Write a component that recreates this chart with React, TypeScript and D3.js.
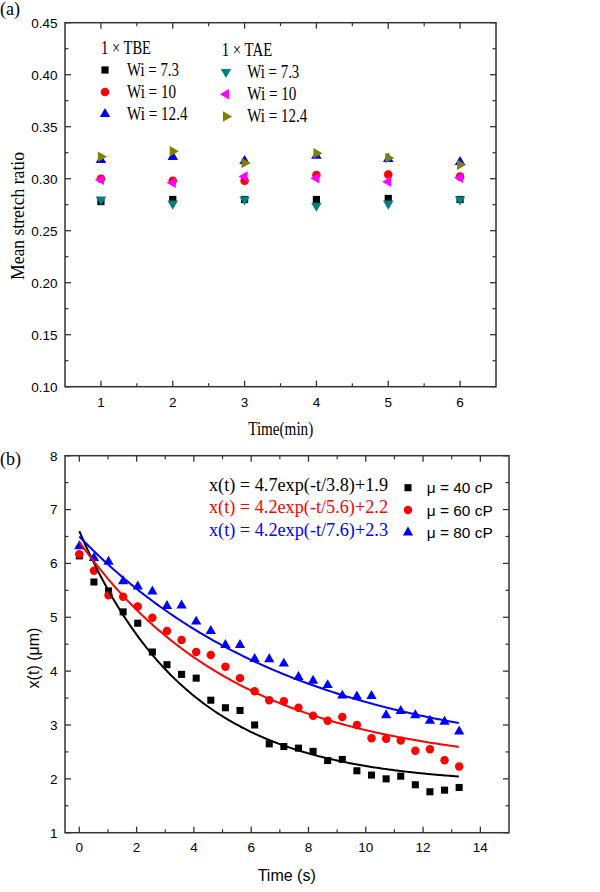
import React from "react";
import * as d3 from "d3";

// ---------- Panel (a) data ----------
const timeMin = [1, 2, 3, 4, 5, 6];
const tbe73 = [0.278, 0.280, 0.280, 0.280, 0.281, 0.280];
const tbe10 = [0.300, 0.298, 0.298, 0.3035, 0.304, 0.302];
const tbe124 = [0.318, 0.321, 0.317, 0.322, 0.319, 0.316];
const tae73 = [0.280, 0.276, 0.280, 0.274, 0.276, 0.280];
const tae10 = [0.299, 0.296, 0.302, 0.3005, 0.297, 0.301];
const tae124 = [0.321, 0.3265, 0.315, 0.3245, 0.320, 0.3135];
const aYTicks = [0.10, 0.15, 0.20, 0.25, 0.30, 0.35, 0.40, 0.45];
const aXTicks = [1, 2, 3, 4, 5, 6];

// ---------- Panel (b) data ----------
const timeS = [0, 0.51, 1.02, 1.53, 2.04, 2.55, 3.06, 3.57, 4.08, 4.59, 5.1, 5.61, 6.12, 6.63, 7.14, 7.65, 8.16, 8.67, 9.18, 9.69, 10.2, 10.71, 11.22, 11.73, 12.24, 12.75, 13.26];
const mu40 = [6.14, 5.655, 5.49, 5.10, 4.89, 4.355, 4.12, 3.94, 3.87, 3.46, 3.32, 3.27, 3.0, 2.65, 2.60, 2.57, 2.51, 2.34, 2.36, 2.15, 2.07, 2.0, 2.05, 1.89, 1.76, 1.79, 1.84];
const mu60 = [6.17, 5.865, 5.41, 5.38, 5.20, 4.99, 4.745, 4.58, 4.355, 4.30, 4.08, 3.87, 3.625, 3.46, 3.44, 3.32, 3.17, 3.08, 3.15, 3.0, 2.755, 2.745, 2.71, 2.52, 2.55, 2.345, 2.23];
const mu80 = [6.32, 6.10, 6.03, 5.67, 5.57, 5.48, 5.21, 5.22, 4.92, 4.745, 4.485, 4.485, 4.225, 4.22, 4.14, 3.89, 3.82, 3.74, 3.545, 3.53, 3.54, 3.18, 3.26, 3.18, 3.08, 3.06, 2.88];
// fit parameters x(t) = A exp(-t/tau) + C
const fitA = [4.7, 4.2, 4.2];
const fitTau = [3.8, 5.6, 7.6];
const fitC = [1.9, 2.2, 2.3];
const fitLabels = [
  "x(t) = 4.7exp(-t/3.8)+1.9",
  "x(t) = 4.2exp(-t/5.6)+2.2",
  "x(t) = 4.2exp(-t/7.6)+2.3",
];
const muLabels = ["\u03bc = 40 cP", "\u03bc = 60 cP", "\u03bc = 80 cP"];
const bYTicks = [1, 2, 3, 4, 5, 6, 7, 8];
const bXTicks = [0, 2, 4, 6, 8, 10, 12, 14];

const SERIF = "'Liberation Serif', 'Times New Roman', serif";
const SANS = "'Liberation Sans', Arial, sans-serif";
const AXIS = "#333";

type Shape = "square" | "circle" | "up" | "down" | "left" | "right";

function Marker({ x, y, shape, color, size }: { x: number; y: number; shape: Shape; color: string; size: number }) {
  let type: d3.SymbolType = d3.symbolTriangle;
  let rot = 0;
  if (shape === "square") type = d3.symbolSquare;
  else if (shape === "circle") type = d3.symbolCircle;
  else if (shape === "down") rot = 180;
  else if (shape === "left") rot = -90;
  else if (shape === "right") rot = 90;
  const d = d3.symbol().type(type).size(size)() || "";
  return <path d={d} fill={color} transform={`translate(${x},${y}) rotate(${rot})`} />;
}

function Frame({ x0, x1, y0, y1 }: { x0: number; x1: number; y0: number; y1: number }) {
  return <rect x={x0} y={y0} width={x1 - x0} height={y1 - y0} fill="none" stroke={AXIS} strokeWidth={1.5} />;
}

function PanelA() {
  const L = 65, R = 496, T = 22.7, B = 386.7;
  const x = d3.scaleLinear().domain([0.5, 6.5]).range([L, R]);
  const y = d3.scaleLinear().domain([0.10, 0.45]).range([B, T]);
  const yMinor = d3.range(0.125, 0.45, 0.05);
  const xMinor = d3.range(1.5, 6.5, 1);
  const series: { v: number[]; shape: Shape; color: string }[] = [
    { v: tbe73, shape: "square", color: "#000000" },
    { v: tbe10, shape: "circle", color: "#ff0000" },
    { v: tbe124, shape: "up", color: "#0000ff" },
    { v: tae73, shape: "down", color: "#008080" },
    { v: tae10, shape: "left", color: "#ff00ff" },
    { v: tae124, shape: "right", color: "#808000" },
  ];
  const sz = (s: Shape) => (s === "square" ? 52 : s === "circle" ? 58 : 48);
  const legL = [
    { label: "Wi = 7.3", w: 52, shape: "square" as Shape, color: "#000000" },
    { label: "Wi = 10", w: 49, shape: "circle" as Shape, color: "#ff0000" },
    { label: "Wi = 12.4", w: 60.5, shape: "up" as Shape, color: "#0000ff" },
  ];
  const legR = [
    { label: "Wi = 7.3", w: 52, shape: "down" as Shape, color: "#008080" },
    { label: "Wi = 10", w: 49, shape: "left" as Shape, color: "#ff00ff" },
    { label: "Wi = 12.4", w: 60, shape: "right" as Shape, color: "#808000" },
  ];
  return (
    <g>
      <text x={0} y={15} fontFamily={SERIF} fontSize={18}>(a)</text>
      {aYTicks.map((t) => (
        <g key={"ya" + t}>
          <line x1={L} x2={L + 6} y1={y(t)} y2={y(t)} stroke={AXIS} strokeWidth={1.3} />
          <line x1={R} x2={R - 6} y1={y(t)} y2={y(t)} stroke={AXIS} strokeWidth={1.3} />
          <text x={57.5} y={y(t)} dy="0.36em" textAnchor="end" fontFamily={SANS} fontSize={13.5}>{t.toFixed(2)}</text>
        </g>
      ))}
      {yMinor.map((t) => (
        <g key={"yma" + t}>
          <line x1={L} x2={L + 3.5} y1={y(t)} y2={y(t)} stroke={AXIS} strokeWidth={1.2} />
          <line x1={R} x2={R - 3.5} y1={y(t)} y2={y(t)} stroke={AXIS} strokeWidth={1.2} />
        </g>
      ))}
      {aXTicks.map((t) => (
        <g key={"xa" + t}>
          <line x1={x(t)} x2={x(t)} y1={B} y2={B - 6} stroke={AXIS} strokeWidth={1.3} />
          <line x1={x(t)} x2={x(t)} y1={T} y2={T + 6} stroke={AXIS} strokeWidth={1.3} />
          <text x={x(t)} y={406.5} textAnchor="middle" fontFamily={SANS} fontSize={13.5}>{t}</text>
        </g>
      ))}
      {xMinor.map((t) => (
        <g key={"xma" + t}>
          <line x1={x(t)} x2={x(t)} y1={B} y2={B - 3.5} stroke={AXIS} strokeWidth={1.2} />
          <line x1={x(t)} x2={x(t)} y1={T} y2={T + 3.5} stroke={AXIS} strokeWidth={1.2} />
        </g>
      ))}
      <Frame x0={L} x1={R} y0={T} y1={B} />
      {series.map((s, i) => (
        <g key={"sa" + i}>
          {s.v.map((v, j) => (
            <Marker key={j} x={x(timeMin[j])} y={y(v)} shape={s.shape} color={s.color} size={sz(s.shape)} />
          ))}
        </g>
      ))}
      <text x={101} y={54} fontFamily={SERIF} fontSize={18} textLength={50} lengthAdjust="spacingAndGlyphs">1 × TBE</text>
      <text x={221.7} y={55.5} fontFamily={SERIF} fontSize={18} textLength={50.5} lengthAdjust="spacingAndGlyphs">1 × TAE</text>
      {legL.map((l, i) => (
        <g key={"ll" + i}>
          <Marker x={105} y={70 + i * 22} shape={l.shape} color={l.color} size={sz(l.shape)} />
          <text x={127} y={76 + i * 22} fontFamily={SERIF} fontSize={18} textLength={l.w} lengthAdjust="spacingAndGlyphs">{l.label}</text>
        </g>
      ))}
      {legR.map((l, i) => (
        <g key={"lr" + i}>
          <Marker x={226} y={72 + i * 22.2} shape={l.shape} color={l.color} size={sz(l.shape)} />
          <text x={247.3} y={77.5 + i * 22.3} fontFamily={SERIF} fontSize={18} textLength={l.w} lengthAdjust="spacingAndGlyphs">{l.label}</text>
        </g>
      ))}
      <text transform={`translate(24,216) rotate(-90)`} textAnchor="middle" fontFamily={SERIF} fontSize={18} textLength={128} lengthAdjust="spacingAndGlyphs">Mean stretch ratio</text>
      <text x={280.7} y={435} textAnchor="middle" fontFamily={SERIF} fontSize={18} textLength={65} lengthAdjust="spacingAndGlyphs">Time(min)</text>
    </g>
  );
}

function PanelB() {
  const L = 65, R = 509, T = 455.7, B = 832.7;
  const x = d3.scaleLinear().domain([-0.5, 15]).range([L, R]);
  const y = d3.scaleLinear().domain([1, 8]).range([B, T]);
  const yMinor = d3.range(1.5, 8, 1);
  const xMinor = d3.range(1, 15, 2);
  const colors = ["#000000", "#ff0000", "#0000ff"];
  const shapes: Shape[] = ["square", "circle", "up"];
  const data = [mu40, mu60, mu80];
  const sz = (s: Shape) => (s === "square" ? 50 : s === "circle" ? 56 : 46);
  const tFit = d3.range(0, 13.26 + 0.001, 0.05);
  const line = d3.line<number>();
  return (
    <g>
      <text x={0} y={465} fontFamily={SERIF} fontSize={18}>(b)</text>
      {bYTicks.map((t) => (
        <g key={"yb" + t}>
          <line x1={L} x2={L + 6} y1={y(t)} y2={y(t)} stroke={AXIS} strokeWidth={1.3} />
          <line x1={R} x2={R - 6} y1={y(t)} y2={y(t)} stroke={AXIS} strokeWidth={1.3} />
          <text x={57.5} y={y(t)} dy="0.36em" textAnchor="end" fontFamily={SANS} fontSize={13.5}>{t}</text>
        </g>
      ))}
      {yMinor.map((t) => (
        <g key={"ymb" + t}>
          <line x1={L} x2={L + 3.5} y1={y(t)} y2={y(t)} stroke={AXIS} strokeWidth={1.2} />
          <line x1={R} x2={R - 3.5} y1={y(t)} y2={y(t)} stroke={AXIS} strokeWidth={1.2} />
        </g>
      ))}
      {bXTicks.map((t) => (
        <g key={"xb" + t}>
          <line x1={x(t)} x2={x(t)} y1={B} y2={B - 6} stroke={AXIS} strokeWidth={1.3} />
          <line x1={x(t)} x2={x(t)} y1={T} y2={T + 6} stroke={AXIS} strokeWidth={1.3} />
          <text x={x(t)} y={852} textAnchor="middle" fontFamily={SANS} fontSize={13.5}>{t}</text>
        </g>
      ))}
      {xMinor.map((t) => (
        <g key={"xmb" + t}>
          <line x1={x(t)} x2={x(t)} y1={B} y2={B - 3.5} stroke={AXIS} strokeWidth={1.2} />
          <line x1={x(t)} x2={x(t)} y1={T} y2={T + 3.5} stroke={AXIS} strokeWidth={1.2} />
        </g>
      ))}
      <Frame x0={L} x1={R} y0={T} y1={B} />
      {data.map((arr, i) => (
        <g key={"sb" + i}>
          {arr.map((v, j) => (
            <Marker key={j} x={x(timeS[j])} y={y(v)} shape={shapes[i]} color={colors[i]} size={sz(shapes[i])} />
          ))}
        </g>
      ))}
      {fitA.map((A, i) => (
        <path
          key={"fit" + i}
          d={line(tFit.map((t) => [x(t), y(A * Math.exp(-t / fitTau[i]) + fitC[i])] as [number, number])) || ""}
          fill="none"
          stroke={colors[i]}
          strokeWidth={2}
        />
      ))}
      {fitLabels.map((s, i) => (
        <text key={"fl" + i} x={209} y={[490.7, 512.9, 536][i]} fill={colors[i]} fontFamily={SERIF} fontSize={19} textLength={179} lengthAdjust="spacingAndGlyphs">{s}</text>
      ))}
      {muLabels.map((s, i) => (
        <g key={"ml" + i}>
          <Marker x={408} y={[487.7, 510, 532.5][i]} shape={shapes[i]} color={colors[i]} size={sz(shapes[i])} />
          <text x={426.7} y={[493, 515.5, 538][i]} fontFamily={SANS} fontSize={15.5} textLength={66} lengthAdjust="spacingAndGlyphs">{s}</text>
        </g>
      ))}
      <text transform={`translate(39,658) rotate(-90)`} textAnchor="middle" fontFamily={SANS} fontSize={16}>x(t)  (μm)</text>
      <text x={286.7} y={880.5} textAnchor="middle" fontFamily={SANS} fontSize={16}>Time (s)</text>
    </g>
  );
}

export default function App() {
  return (
    <svg width={600} height={892} style={{ position: "absolute", left: 0, top: 0, background: "#fff" }}>
      <rect width={600} height={892} fill="#fff" />
      <PanelA />
      <PanelB />
    </svg>
  );
}
